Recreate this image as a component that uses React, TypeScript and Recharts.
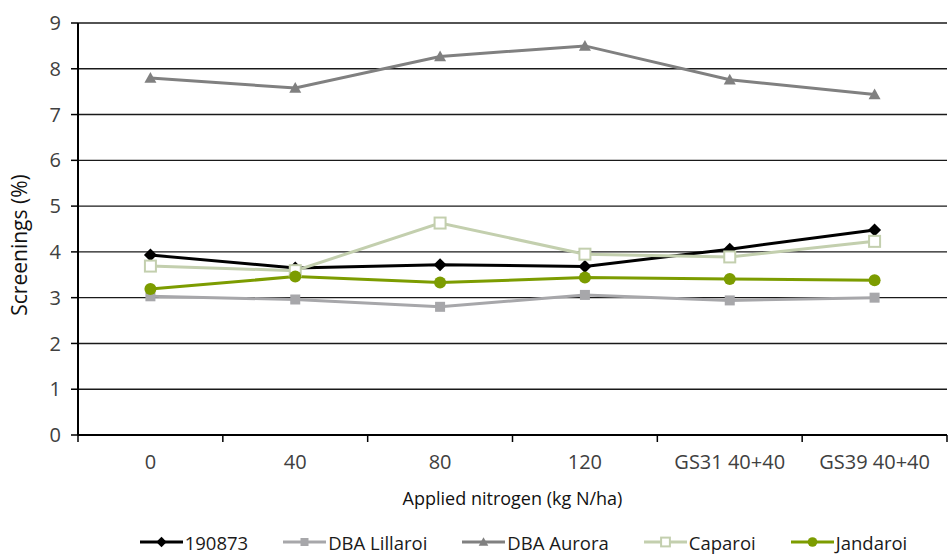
import React from "react";
import { LineChart, Line, XAxis, YAxis, CartesianGrid, Legend } from "recharts";

const categories = ["0", "40", "80", "120", "GS31 40+40", "GS39 40+40"];
const s190873 = [3.93, 3.65, 3.72, 3.68, 4.06, 4.48];
const dbaLillaroi = [3.03, 2.96, 2.8, 3.06, 2.94, 3.0];
const dbaAurora = [7.8, 7.58, 8.27, 8.5, 7.76, 7.44];
const caparoi = [3.69, 3.59, 4.63, 3.95, 3.89, 4.23];
const jandaroi = [3.19, 3.46, 3.33, 3.44, 3.41, 3.38];
const yTicks = [0, 1, 2, 3, 4, 5, 6, 7, 8, 9];

const data = categories.map((c, i) => ({
	idx: i,
	cat: c,
	s190873: s190873[i],
	dbaLillaroi: dbaLillaroi[i],
	dbaAurora: dbaAurora[i],
	caparoi: caparoi[i],
	jandaroi: jandaroi[i],
}));

// ticks at category centres (labels) and at category edges (tick marks)
const xTicks = [-0.5, 0, 0.5, 1, 1.5, 2, 2.5, 3, 3.5, 4, 4.5, 5, 5.5];

const FONT = "'Open Sans', sans-serif";
const TICK_TEXT = "#404040";
const TITLE_TEXT = "#111";

type Shape = "diamond" | "square" | "triangle" | "hollow" | "circle";

const series: { key: string; name: string; color: string; shape: Shape }[] = [
	{ key: "s190873", name: "190873", color: "#000000", shape: "diamond" },
	{ key: "dbaLillaroi", name: "DBA Lillaroi", color: "#a7a7aa", shape: "square" },
	{ key: "dbaAurora", name: "DBA Aurora", color: "#808080", shape: "triangle" },
	{ key: "caparoi", name: "Caparoi", color: "#c3cfae", shape: "hollow" },
	{ key: "jandaroi", name: "Jandaroi", color: "#7c9c00", shape: "circle" },
];

function marker(shape: Shape, color: string, cx: number, cy: number, s = 1, key?: string) {
	if (shape === "diamond") {
		const r = 6.5 * s;
		return <path key={key} d={`M${cx},${cy - r}L${cx + r},${cy}L${cx},${cy + r}L${cx - r},${cy}Z`} fill={color} />;
	}
	if (shape === "square") {
		const r = 5 * s;
		return <rect key={key} x={cx - r} y={cy - r} width={2 * r} height={2 * r} fill={color} />;
	}
	if (shape === "triangle") {
		const r = 6 * s;
		return <path key={key} d={`M${cx},${cy - r}L${cx + r},${cy + r * 0.8}L${cx - r},${cy + r * 0.8}Z`} fill={color} />;
	}
	if (shape === "hollow") {
		const r = 5.5 * s;
		return <rect key={key} x={cx - r} y={cy - r} width={2 * r} height={2 * r} fill="#fff" stroke={color} strokeWidth={2} />;
	}
	return <circle key={key} cx={cx} cy={cy} r={6 * s} fill={color} />;
}

const makeDot = (shape: Shape, color: string) => (props: any) => {
	const { cx, cy, index } = props;
	if (cx == null || cy == null) return <g key={`d${index}`} />;
	return marker(shape, color, cx, cy, 1, `d${index}`);
};

const XTick = (props: any) => {
	const { x, y, payload } = props;
	const v = payload.value;
	if (!Number.isInteger(v)) {
		return <line x1={x} x2={x} y1={y - 8} y2={y - 1} stroke="#000" strokeWidth={1.5} />;
	}
	return (
		<text x={x} y={y + 26} textAnchor="middle" fill={TICK_TEXT} fontSize={20} fontFamily={FONT}>
			{categories[v]}
		</text>
	);
};

const YLabel = () => {
	const cx = 19;
	const cy = 245;
	return (
		<text
			x={cx}
			y={cy}
			transform={`rotate(-90 ${cx} ${cy})`}
			textAnchor="middle"
			dominantBaseline="central"
			fill={TITLE_TEXT}
			fontSize={21}
			fontFamily={FONT}
		>
			Screenings (%)
		</text>
	);
};

const LegendContent = () => (
	<div
		style={{
			display: "flex",
			justifyContent: "center",
			gap: 35,
			fontFamily: FONT,
			fontSize: 18.5,
			color: "#1a1a1a",
			paddingTop: 14,
			paddingLeft: 100,
		}}
	>
		{series.map((s) => (
			<div key={s.key} style={{ display: "flex", alignItems: "center", height: 26 }}>
				<svg width={43} height={16} style={{ marginRight: 2 }}>
					<line x1={0} x2={43} y1={8} y2={8} stroke={s.color} strokeWidth={3} />
					{marker(s.shape, s.color, 21.5, 8, 0.8)}
				</svg>
				<span style={{ whiteSpace: "nowrap" }}>{s.name}</span>
			</div>
		))}
	</div>
);

export default function App() {
	return (
		<div style={{ position: "absolute", left: 0, top: 0, width: 949, height: 555, background: "#fff" }}>
			<LineChart width={949} height={555} data={data} margin={{ top: 23, right: 2, left: 0, bottom: 0 }}>
				<CartesianGrid vertical={false} stroke="#1a1a1a" strokeWidth={1.4} />
				<XAxis
					dataKey="idx"
					type="number"
					domain={[-0.5, 5.5]}
					ticks={xTicks}
					interval={0}
					tickLine={false}
					tick={<XTick />}
					axisLine={{ stroke: "#000", strokeWidth: 2 }}
					height={80}
					label={{
						value: "Applied nitrogen (kg N/ha)",
						position: "insideBottom",
						offset: 10,
						fill: TITLE_TEXT,
						fontSize: 18,
						fontFamily: FONT,
					}}
				/>
				<YAxis
					domain={[0, 9]}
					ticks={yTicks}
					interval={0}
					width={78}
					axisLine={{ stroke: "#000", strokeWidth: 2 }}
					tickLine={{ stroke: "#000", strokeWidth: 1.5 }}
					tickSize={7}
					tickMargin={10}
					tick={{ fill: TICK_TEXT, fontSize: 20, fontFamily: FONT }}
					label={<YLabel />}
				/>
				<Legend verticalAlign="bottom" height={40} content={<LegendContent />} />
				{series.map((s) => (
					<Line
						key={s.key}
						dataKey={s.key}
						name={s.name}
						type="linear"
						stroke={s.color}
						strokeWidth={3}
						dot={makeDot(s.shape, s.color)}
						activeDot={false}
						isAnimationActive={false}
					/>
				))}
			</LineChart>
		</div>
	);
}
